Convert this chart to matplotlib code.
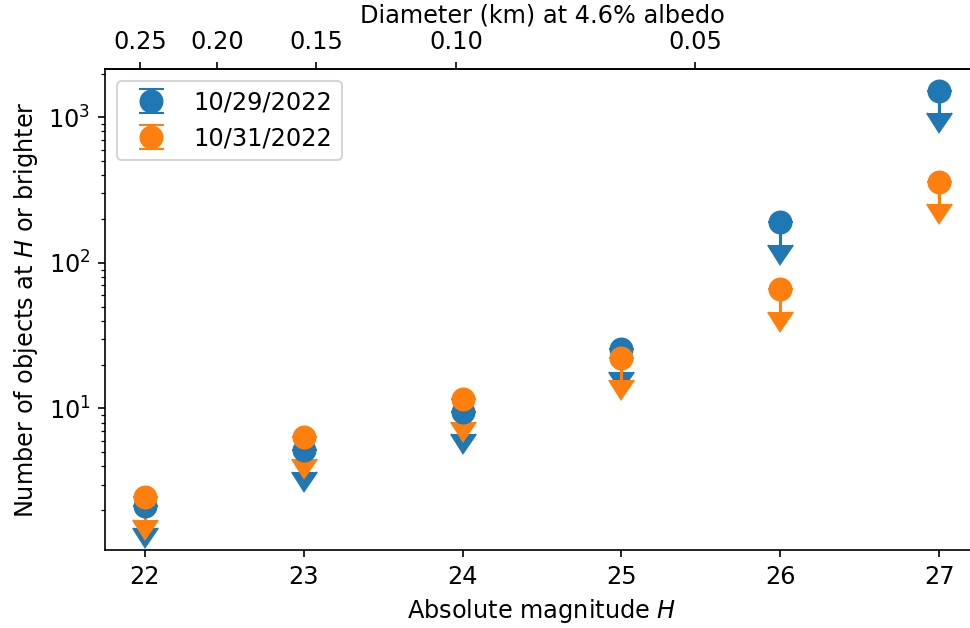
import numpy as np
import matplotlib
matplotlib.use("Agg")
import matplotlib.pyplot as plt
from matplotlib.ticker import FormatStrFormatter

plt.rcParams['font.size'] = 11.5

# absolute magnitude bins
H = np.array([22, 23, 24, 25, 26, 27])

# cumulative counts (upper limits) for each night
n_1029 = np.array([2.15, 5.2, 9.5, 25.5, 191, 1520])
n_1031 = np.array([2.45, 6.4, 11.6, 22.3, 66, 362])
labels = ["10/29/2022", "10/31/2022"]

diam_ticks = [0.25, 0.20, 0.15, 0.10, 0.05]
albedo = 0.046


def h_to_d(h):
    return 1329.0 / np.sqrt(albedo) * 10 ** (-np.asarray(h) / 5.0)


def d_to_h(d):
    d = np.clip(np.asarray(d, dtype=float), 1e-6, None)
    return 5.0 * np.log10(1329.0 / (np.sqrt(albedo) * d))


fig = plt.figure(figsize=(970 / 150, 628 / 150), dpi=150)
ax = fig.add_axes([105 / 970, 1 - 550 / 628, (979 - 105) / 970, (550 - 69) / 628])

for n, lab in zip([n_1029, n_1031], labels):
    ax.errorbar(H, n, yerr=0.3 * n, uplims=True, fmt='o', ms=10.5,
                capsize=6, label=lab)

ax.set_yscale('log')
ax.set_xlabel("Absolute magnitude $H$")
ax.set_ylabel("Number of objects at $H$ or brighter")
ax.legend(loc='upper left')

sec = ax.secondary_xaxis('top', functions=(h_to_d, d_to_h))
sec.set_xticks(diam_ticks)
sec.xaxis.set_major_formatter(FormatStrFormatter('%.2f'))
sec.set_xlabel("Diameter (km) at 4.6% albedo")

fig.savefig("out.png", dpi=150)
